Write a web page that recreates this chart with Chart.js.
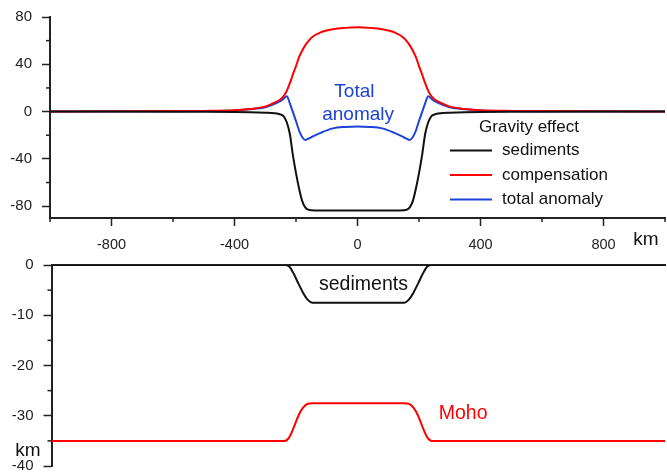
<!doctype html>
<html lang="en">
<head>
<meta charset="utf-8">
<title>Gravity effect of a sedimentary basin</title>
<style>
  html, body {margin: 0; background: #fff; overflow: hidden;}
  #wrap {position: relative; width: 667px; height: 472px; overflow: hidden;}
  #wrap canvas {position: absolute; left: 0;}
</style>
</head>
<body>
<div id="wrap">
  <canvas id="gravityChart" width="667" height="260" style="top:0"></canvas>
  <canvas id="depthChart" width="667" height="230" style="top:250px"></canvas>
</div>

<script src="https://cdn.jsdelivr.net/npm/chart.js@4.4.1/dist/chart.umd.min.js"></script>
<script>
// gravity profile (mGal) along the section, km
var profileX = [-1000, -800, -600, -500, -400, -350, -300, -270, -250, -240, -230, -220, -210, -200, -190, -180, -170, -160, -150, -120, -80, -40, 0,
                40, 80, 120, 150, 160, 170, 180, 190, 200, 210, 220, 230, 240, 250, 270, 300, 350, 400, 500, 600, 800, 1000];
var sedimentEffect = [0, 0, -0.1, -0.2, -0.4, -0.6, -1, -1.4, -2.5, -4, -9, -19, -37, -52, -65, -75.5, -81, -83, -83.5, -83.7, -83.7, -83.7, -83.7,
                      -83.7, -83.7, -83.7, -83.5, -83, -81, -75.5, -65, -52, -37, -19, -9, -4, -2.5, -1.4, -1, -0.6, -0.4, -0.2, -0.1, 0, 0];
var compensationEffect = [0.1, 0.2, 0.4, 0.6, 1.2, 2.2, 4.2, 7.5, 10.5, 13, 17.5, 24, 31.5, 38.5, 46, 51.5, 56, 59.5, 62.5, 67, 69.7, 70.8, 71.3,
                          70.8, 69.7, 67, 62.5, 59.5, 56, 51.5, 46, 38.5, 31.5, 24, 17.5, 13, 10.5, 7.5, 4.2, 2.2, 1.2, 0.6, 0.4, 0.2, 0.1];
var totalAnomaly = [0, 0.1, 0.3, 0.5, 1.0, 1.9, 3.6, 6.5, 9, 11, 13, 7, -0.5, -8, -16, -21.5, -24, -23, -21.7, -18, -14.2, -13, -12.6,
                    -13, -14.2, -18, -21.7, -23, -24, -21.5, -16, -8, -0.5, 7, 13, 11, 9, 6.5, 3.6, 1.9, 1.0, 0.5, 0.3, 0.1, 0];

// depth section (km)
var basinX = [-1000, -240, -225, -210, -195, -180, -165, -150, 0, 150, 165, 180, 195, 210, 225, 240, 1000];
var sedimentBase = [0, 0, -0.3, -1.8, -3.7, -5.5, -6.9, -7.5, -7.5, -7.5, -6.9, -5.5, -3.7, -1.8, -0.3, 0, 0];
var mohoDepth = [-35, -35, -34.3, -32.3, -30, -28.4, -27.6, -27.5, -27.5, -27.5, -27.6, -28.4, -30, -32.3, -34.3, -35, -35];

var distanceTicks = [-1000, -800, -600, -400, -200, 0, 200, 400, 600, 800, 1000];
var gravityTicks = [-80, -60, -40, -20, 0, 20, 40, 60, 80];
var depthTicks = [-40, -35, -30, -25, -20, -15, -10, -5, 0];

var AXIS = '#222';
var BLACK = '#111';
var RED = '#ff0000';
var BLUE = '#1d43d8';
var FONT = '"Liberation Sans", Arial, sans-serif';

Chart.defaults.font.family = FONT;
Chart.defaults.color = AXIS;

function points(xs, ys) {
  return xs.map(function (x, i) { return {x: x, y: ys[i]}; });
}

function setTicks(values) {
  return function (scale) { scale.ticks = values.map(function (v) { return {value: v}; }); };
}

function every(step) {
  return function (v) { return v % step === 0 ? String(v) : ''; };
}

// labelled ticks are drawn by Chart.js, this one adds the short unlabelled ones
var minorTicks = {
  id: 'minorTicks',
  afterDraw: function (chart) {
    var ctx = chart.ctx;
    ctx.save();
    ctx.strokeStyle = AXIS;
    ctx.lineWidth = 1.5;
    Object.values(chart.scales).forEach(function (scale) {
      if (!scale.options.ticks.display) return;
      scale.ticks.forEach(function (t) {
        if (t.label !== '') return;
        var p = scale.getPixelForValue(t.value);
        ctx.beginPath();
        if (scale.isHorizontal()) {
          ctx.moveTo(p, scale.top);
          ctx.lineTo(p, scale.top + 4);
        } else {
          ctx.moveTo(scale.right, p);
          ctx.lineTo(scale.right - 4, p);
        }
        ctx.stroke();
      });
    });
    ctx.restore();
  }
};

// free text: data: true means x/y are in axis units
function notes(items) {
  return {
    id: 'notes',
    afterDraw: function (chart) {
      var ctx = chart.ctx;
      ctx.save();
      items.forEach(function (n) {
        var x = n.data ? chart.scales.x.getPixelForValue(n.x) : n.x;
        var y = n.data ? chart.scales.y.getPixelForValue(n.y) : n.y;
        ctx.font = n.size + 'px ' + FONT;
        ctx.fillStyle = n.color;
        ctx.textAlign = n.align || 'center';
        ctx.textBaseline = 'middle';
        ctx.fillText(n.text, x, y);
      });
      ctx.restore();
    }
  };
}

var gravityLegend = {
  id: 'gravityLegend',
  afterDraw: function (chart) {
    var ctx = chart.ctx;
    ctx.save();
    ctx.font = '17px ' + FONT;
    ctx.fillStyle = BLACK;
    ctx.textAlign = 'center';
    ctx.textBaseline = 'middle';
    ctx.fillText('Gravity effect', 529, 127);
    ctx.textAlign = 'left';
    chart.data.datasets.forEach(function (ds, i) {
      var y = 150.5 + i * 24.5;
      ctx.strokeStyle = ds.borderColor;
      ctx.lineWidth = 2;
      ctx.beginPath();
      ctx.moveTo(450, y);
      ctx.lineTo(492, y);
      ctx.stroke();
      ctx.fillStyle = BLACK;
      ctx.fillText(ds.label, 502, y);
    });
    ctx.restore();
  }
};

function lineSet(label, xs, ys, color) {
  return {
    label: label,
    data: points(xs, ys),
    borderColor: color,
    borderWidth: 2,
    pointRadius: 0,
    fill: false,
    cubicInterpolationMode: 'monotone'
  };
}

new Chart(document.getElementById('gravityChart'), {
  type: 'line',
  data: {
    datasets: [
      lineSet('sediments', profileX, sedimentEffect, BLACK),
      lineSet('compensation', profileX, compensationEffect, RED),
      lineSet('total anomaly', profileX, totalAnomaly, BLUE)
    ]
  },
  options: {
    responsive: false,
    animation: false,
    layout: {padding: {top: 17, right: 2, left: 0, bottom: 0}},
    plugins: {legend: {display: false}, tooltip: {enabled: false}},
    scales: {
      x: {
        type: 'linear', min: -1000, max: 1000, position: 'bottom',
        afterBuildTicks: setTicks(distanceTicks),
        afterFit: function (s) { s.height = 42; s.paddingLeft = 0; s.paddingRight = 0; },
        border: {color: AXIS, width: 2},
        grid: {drawOnChartArea: false, tickLength: 8, tickWidth: 1.5,
               tickColor: function (c) { return c.tick && c.tick.value % 400 === 0 ? AXIS : 'rgba(0,0,0,0)'; }},
        ticks: {padding: 10, maxRotation: 0, autoSkip: false, font: {size: 14.5}, callback: every(400)}
      },
      y: {
        min: -90, max: 80,
        afterBuildTicks: setTicks(gravityTicks),
        afterFit: function (s) { s.width = 50; s.paddingTop = 0; s.paddingBottom = 0; },
        border: {color: AXIS, width: 2},
        grid: {drawOnChartArea: false, tickLength: 8, tickWidth: 1.5,
               tickColor: function (c) { return c.tick && c.tick.value % 40 === 0 ? AXIS : 'rgba(0,0,0,0)'; }},
        ticks: {padding: 10, autoSkip: false, font: {size: 15}, callback: every(40)}
      }
    }
  },
  plugins: [minorTicks, gravityLegend, notes([
    {text: 'Total', x: -10, y: 17, data: true, size: 19, color: BLUE},
    {text: 'anomaly', x: 2, y: -2.5, data: true, size: 19, color: BLUE},
    {text: 'km', x: 646, y: 240, size: 19, color: BLACK}
  ])]
});

new Chart(document.getElementById('depthChart'), {
  type: 'line',
  data: {
    datasets: [
      lineSet('sediments', basinX, sedimentBase, BLACK),
      lineSet('Moho', basinX, mohoDepth, RED)
    ]
  },
  options: {
    responsive: false,
    animation: false,
    layout: {padding: {top: 15, right: 2, left: 0, bottom: 14}},
    plugins: {legend: {display: false}, tooltip: {enabled: false}},
    scales: {
      x: {
        type: 'linear', min: -1000, max: 1000, position: 'top',
        afterFit: function (s) { s.height = 0; s.paddingLeft = 0; s.paddingRight = 0; },
        border: {color: AXIS, width: 2},
        grid: {display: false},
        ticks: {display: false}
      },
      y: {
        min: -40, max: 0,
        afterBuildTicks: setTicks(depthTicks),
        afterFit: function (s) { s.width = 51.5; s.paddingTop = 0; s.paddingBottom = 0; },
        border: {color: AXIS, width: 2},
        grid: {drawOnChartArea: false, tickLength: 8, tickWidth: 1.5,
               tickColor: function (c) { return c.tick && c.tick.value % 10 === 0 ? AXIS : 'rgba(0,0,0,0)'; }},
        ticks: {padding: 10, autoSkip: false, font: {size: 15}, callback: every(10)}
      }
    }
  },
  plugins: [minorTicks, notes([
    {text: 'sediments', x: 17, y: -4, data: true, size: 19.5, color: BLACK},
    {text: 'Moho', x: 342, y: -29.6, data: true, size: 19.5, color: RED},
    {text: 'km', x: 28, y: 201, size: 19, color: BLACK}
  ])]
});
</script>
</body>
</html>
